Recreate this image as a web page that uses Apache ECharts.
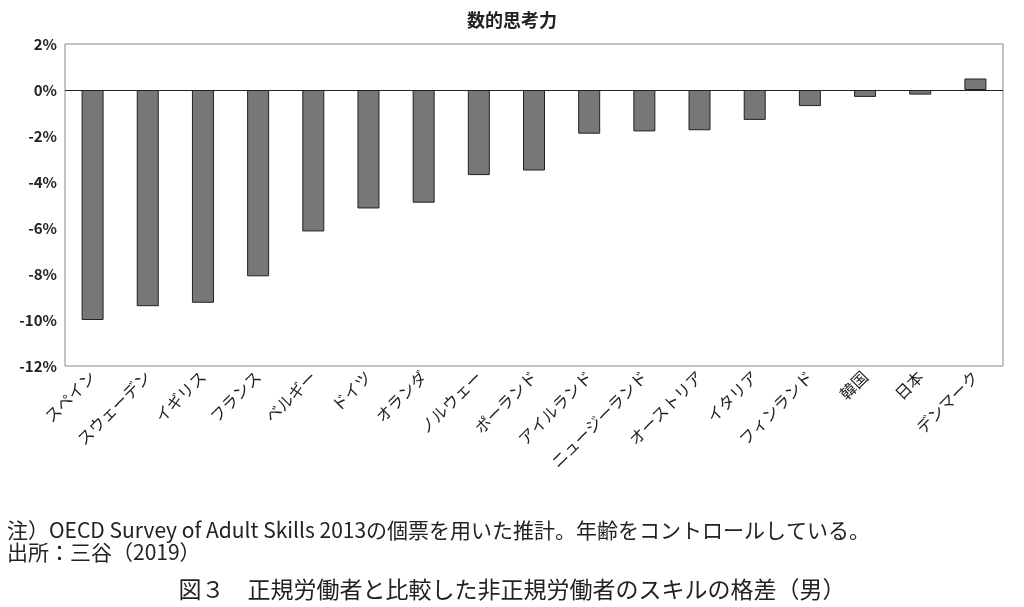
<!DOCTYPE html>
<html><head><meta charset="utf-8">
<script src="https://cdn.jsdelivr.net/npm/echarts@6/dist/echarts.min.js"></script>
<style>html,body{margin:0;padding:0;background:#fff;}#c{width:1024px;height:607px;}</style>
</head><body><div id="c"></div>
<script>
const categories=["スペイン","スウェーデン","イギリス","フランス","ベルギー","ドイツ","オランダ","ノルウェー","ポーランド","アイルランド","ニュージーランド","オーストリア","イタリア","フィンランド","韓国","日本","デンマーク"];
const values=[-10.0,-9.4,-9.25,-8.1,-6.15,-5.15,-4.9,-3.7,-3.5,-1.9,-1.8,-1.75,-1.3,-0.7,-0.3,-0.2,0.5];
const chart=echarts.init(document.getElementById('c'));
const f='"Noto Sans CJK JP", sans-serif';
chart.setOption({
 animation:false,
 title:[{text:'数的思考力',left:'center',top:6,textStyle:{fontSize:18,fontWeight:'bold',color:'#222',fontFamily:f}},
  {text:'注）OECD Survey of Adult Skills 2013の個票を用いた推計。年齢をコントロールしている。\n出所：三谷（2019）',left:2,top:514,textStyle:{fontSize:21,fontWeight:'normal',color:'#222',fontFamily:f,lineHeight:22}},
  {text:'図３　正規労働者と比較した非正規労働者のスキルの格差（男）',left:'center',top:573,textStyle:{fontSize:23,fontWeight:'normal',color:'#222',fontFamily:f}}],
 grid:{left:65,right:21,top:44,bottom:241,show:true,borderColor:'#888',borderWidth:1},
 xAxis:{type:'category',data:categories,axisTick:{show:false},axisLine:{show:false},
  axisLabel:{rotate:45,interval:0,fontSize:16,color:'#222',fontFamily:f,margin:8}},
 yAxis:{type:'value',min:-12,max:2,interval:2,splitLine:{show:false},axisLine:{show:false},axisTick:{show:false},
  axisLabel:{formatter:'{value}%',fontSize:15,fontWeight:'bold',color:'#222',fontFamily:f}},
 series:[{type:'bar',data:values,barWidth:22,itemStyle:{color:'#777',borderColor:'#222',borderWidth:1},
  markLine:{silent:true,symbol:'none',label:{show:false},lineStyle:{color:'#222',type:'solid',width:1},data:[{yAxis:0}]}}]
});
</script></body></html>
